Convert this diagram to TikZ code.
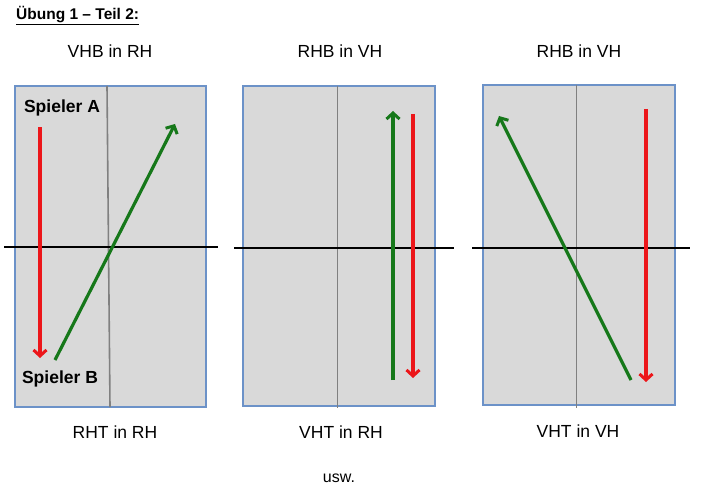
\documentclass[tikz,border=0pt]{standalone}
\usepackage{fontspec}
\setmainfont{Liberation Sans}
\usetikzlibrary{arrows.meta}
\definecolor{tablefill}{RGB}{217,217,217}
\definecolor{tableedge}{RGB}{108,146,200}
\definecolor{midline}{RGB}{128,128,128}
\definecolor{ballred}{RGB}{236,22,26}
\definecolor{ballgreen}{RGB}{22,120,26}
\tikzset{
  tablebox/.style={fill=tablefill,draw=tableedge,line width=1.6pt},
  centerline/.style={draw=midline,line width=1.6pt},
  netline/.style={draw=black,line width=1.8pt},
  redshot/.style={draw=ballred,line width=3.2pt,-{Straight Barb[length=6pt,width=13pt,line width=3pt]}},
  greenshot/.style={draw=ballgreen,line width=3.2pt,-{Straight Barb[length=6pt,width=13pt,line width=3pt]}},
  caption/.style={font=\fontsize{17.5}{20}\selectfont,inner sep=0pt},
  player/.style={font=\fontsize{17.5}{20}\selectfont\bfseries,inner sep=0pt}
}
\begin{document}
\begin{tikzpicture}[x=1pt,y=-1pt]
\useasboundingbox (0,0) rectangle (706,500);
% title
\node[inner sep=0pt,anchor=west,font=\fontsize{15.5}{18}\selectfont\bfseries] (title) at (16,16) {\underline{Übung 1 – Teil 2:}};
% top captions
\node[caption] (t1) at (110,51) {VHB in RH};
\node[caption] (t2) at (340,51) {RHB in VH};
\node[caption] (t3) at (579,51) {RHB in VH};
% table 1
\draw[tablebox] (15,86) rectangle (206,407);
\draw[centerline] (107,86) -- (110,407);
\draw[netline] (4,247) -- (218,247);
\coordinate (a1s) at (40,127); \coordinate (a1e) at (40,358);
\draw[redshot] (a1s) -- (a1e);
\coordinate (g1s) at (55,360); \coordinate (g1e) at (175,124);
\draw[greenshot] (g1s) -- (g1e);
\node[player] (pa) at (62,108) {Spieler A};
\node[player] (pb) at (60,379) {Spieler B};
% table 2
\draw[tablebox] (243,86) rectangle (435,406);
\draw[centerline] (337.5,86) -- (337.5,408);
\draw[netline] (234,248) -- (454,248);
\coordinate (g2s) at (393,380); \coordinate (g2e) at (393,111);
\draw[greenshot] (g2s) -- (g2e);
\coordinate (r2s) at (413,114); \coordinate (r2e) at (413,378);
\draw[redshot] (r2s) -- (r2e);
% table 3
\draw[tablebox] (483,85) rectangle (675,405);
\draw[centerline] (576.5,85) -- (576.5,408);
\draw[netline] (472,248) -- (690,248);
\coordinate (g3s) at (631,380); \coordinate (g3e) at (499,116);
\draw[greenshot] (g3s) -- (g3e);
\coordinate (r3s) at (646,109); \coordinate (r3e) at (646,382);
\draw[redshot] (r3s) -- (r3e);
% bottom captions
\node[caption] (b1) at (115,432) {RHT in RH};
\node[caption] (b2) at (341,432) {VHT in RH};
\node[caption] (b3) at (578,431) {VHT in VH};
\node[caption,font=\fontsize{16}{19}\selectfont] (usw) at (339,478) {usw.};
\end{tikzpicture}
\end{document}
